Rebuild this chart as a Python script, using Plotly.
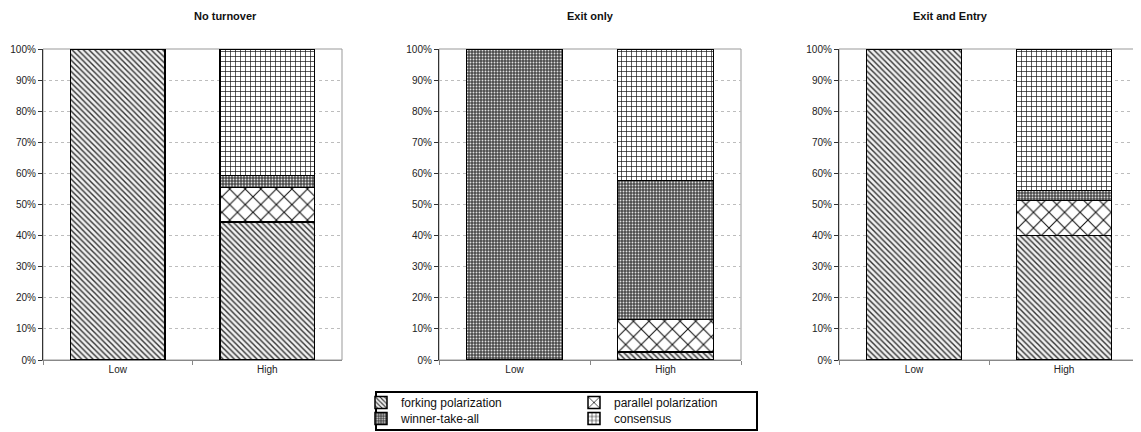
import plotly.graph_objects as go
from plotly.subplots import make_subplots

panels = ["No turnover", "Exit only", "Exit and Entry"]
categories = ["Low", "High"]
series_names = ["forking polarization", "parallel polarization", "winner-take-all", "consensus"]

# values per panel: [Low, High] for each series
forking = [[100, 44.3], [0, 2.5], [100, 40.0]]
parallel = [[0, 11.2], [0, 10.5], [0, 11.3]]
winner = [[0, 3.8], [100, 44.7], [0, 3.2]]
consensus = [[0, 40.7], [0, 42.3], [0, 45.5]]

series_values = [forking, parallel, winner, consensus]

patterns = [
    dict(shape="\\", size=4, solidity=0.35, fgcolor="#333", bgcolor="#f0f0f0", fillmode="replace"),
    dict(shape="x", size=11, solidity=0.18, fgcolor="#111", bgcolor="white", fillmode="replace"),
    dict(shape=".", size=3, solidity=0.3, fgcolor="#e0e0e0", bgcolor="#4a4a4a", fillmode="replace"),
    dict(shape="+", size=5, solidity=0.25, fgcolor="#111", bgcolor="white", fillmode="replace"),
]
legend_of = ["legend", "legend", "legend2", "legend2"]

fig = make_subplots(rows=1, cols=3)

for p in range(3):
    for s in range(4):
        fig.add_trace(
            go.Bar(
                x=categories,
                y=series_values[s][p],
                name=series_names[s],
                legendgroup=series_names[s],
                legend=legend_of[s],
                showlegend=(p == 0),
                marker=dict(color="white", pattern=patterns[s],
                            line=dict(color="black", width=1.5)),
                width=0.635,
                hoverinfo="skip",
            ),
            row=1, col=p + 1,
        )

# page has an 8px body margin, so the figure starts at (8, 8)
OFF = 8
W, H = 1141 - OFF, 432 - OFF


def px_x(v):
    return (v - OFF) / W


def px_y(v):
    return 1 - (v - OFF) / H


x_doms = [(px_x(43), px_x(342)), (px_x(439), px_x(741)), (px_x(839), px_x(1139))]
y_dom = (px_y(360), px_y(49))
font_family = "Liberation Sans, Arial"

for i in range(3):
    xa = "xaxis" if i == 0 else f"xaxis{i+1}"
    ya = "yaxis" if i == 0 else f"yaxis{i+1}"
    fig.layout[xa].update(
        domain=list(x_doms[i]), showline=True, linecolor="#888", linewidth=1,
        ticks="outside", ticklen=4, tickcolor="#888", tickson="boundaries",
        tickfont=dict(family=font_family, size=10, color="#222"),
        showgrid=False, fixedrange=True, automargin=False,
    )
    fig.layout[ya].update(
        domain=list(y_dom), range=[0, 100], dtick=10, ticksuffix="%",
        showline=True, linecolor="#333", linewidth=1.2,
        ticks="outside", ticklen=4, tickcolor="#333",
        showgrid=True, gridcolor="#bdbdbd", griddash="3px,3px", gridwidth=1,
        tickfont=dict(family=font_family, size=10, color="#222"),
        zeroline=False, fixedrange=True, automargin=False,
    )
    xref = "x domain" if i == 0 else f"x{i+1} domain"
    yref = "y domain" if i == 0 else f"y{i+1} domain"
    fig.add_shape(type="rect", xref=xref, yref=yref, x0=0, x1=1, y0=0, y1=1,
                  line=dict(color="#999", width=1), layer="below")
    fig.add_annotation(
        text=f"<b>{panels[i]}</b>", xref="paper", yref="paper",
        x=(x_doms[i][0] + x_doms[i][1]) / 2, y=px_y(16), yanchor="middle",
        showarrow=False, borderpad=0,
        font=dict(family=font_family, size=11, color="#111"),
    )

# legend box
fig.add_shape(type="rect", xref="paper", yref="paper",
              x0=px_x(376), x1=px_x(757), y0=px_y(430), y1=px_y(392),
              line=dict(color="black", width=2), layer="below")

legend_common = dict(
    orientation="h", xanchor="left", yanchor="top",
    entrywidth=168, entrywidthmode="pixels", itemwidth=30,
    borderwidth=0, bgcolor="rgba(0,0,0,0)",
    font=dict(family=font_family, size=12, color="#111"),
    tracegroupgap=0, traceorder="normal",
)

fig.update_layout(
    width=W, height=H, barmode="stack", bargap=0.365,
    margin=dict(l=0, r=0, t=0, b=0, autoexpand=False),
    paper_bgcolor="white", plot_bgcolor="white",
    legend=dict(x=px_x(361), y=px_y(388), **legend_common),
    legend2=dict(x=px_x(361), y=px_y(404), **legend_common),
)

fig.write_html("out.html")
